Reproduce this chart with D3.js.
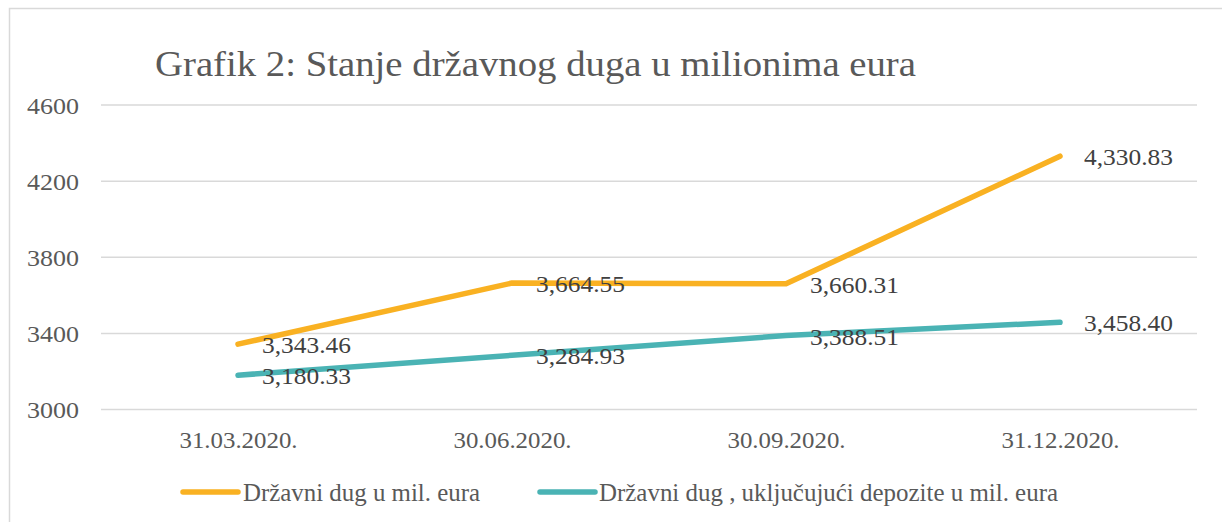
<!DOCTYPE html>
<html>
<head>
<meta charset="utf-8">
<script src="https://cdn.jsdelivr.net/npm/d3@7"></script>
<style>
  html, body { margin: 0; padding: 0; background: #fff; }
  svg { display: block; }
</style>
</head>
<body>
<svg id="chart" width="1222" height="522" font-family="Liberation Serif, DejaVu Serif, serif"></svg>
<script>
const categories = ["31.03.2020.", "30.06.2020.", "30.09.2020.", "31.12.2020."];
const debtValues = [3343.46, 3664.55, 3660.31, 4330.83];
const debtWithDepositsValues = [3180.33, 3284.93, 3388.51, 3458.40];
const yTicks = [3000, 3400, 3800, 4200, 4600];
const seriesNames = ["Državni dug u mil. eura", "Državni dug , uključujući depozite u mil. eura"];
const titleText = "Grafik 2: Stanje državnog duga u milionima eura";

const series = [
  { name: seriesNames[0], values: debtValues, color: "#F9B122" },
  { name: seriesNames[1], values: debtWithDepositsValues, color: "#4AB3B4" }
];

const FONT = "'Liberation Serif', 'DejaVu Serif', serif";
const svg = d3.select("#chart");
svg.append("rect").attr("width", 1222).attr("height", 522).attr("fill", "#fff");
// outer chart border (extends beyond right/bottom edges)
svg.append("rect").attr("x", 9.5).attr("y", 8.5).attr("width", 1300).attr("height", 600)
  .attr("fill", "none").attr("stroke", "#D9D9D9").attr("stroke-width", 1.5);

const x = d3.scalePoint().domain(categories).range([101, 1197]).padding(0.5);
const y = d3.scaleLinear().domain([3000, 4600]).range([409.5, 105]);

// gridlines
svg.append("g").selectAll("line").data(yTicks).join("line")
  .attr("x1", 101).attr("x2", 1197)
  .attr("y1", d => y(d)).attr("y2", d => y(d))
  .attr("stroke", "#D9D9D9").attr("stroke-width", 1.5);

// y axis
const yAxis = svg.append("g").attr("transform", "translate(80,0)")
  .call(d3.axisLeft(y).tickValues(yTicks).tickSize(0).tickPadding(1).tickFormat(d3.format("d")));
yAxis.attr("font-family", null);
yAxis.select(".domain").remove();
yAxis.selectAll("text").attr("font-size", 23).attr("fill", "#595959")
  .style("font-family", FONT)
  .attr("dy", null).attr("y", 8)
  .attr("textLength", 52).attr("lengthAdjust", "spacingAndGlyphs");

// x axis
const xAxis = svg.append("g")
  .call(d3.axisBottom(x).tickSize(0).tickPadding(0));
xAxis.attr("font-family", null);
xAxis.select(".domain").remove();
xAxis.selectAll("text").attr("font-size", 23).attr("fill", "#595959")
  .style("font-family", FONT)
  .attr("dy", null).attr("y", 448)
  .attr("textLength", 118).attr("lengthAdjust", "spacingAndGlyphs");

// title
svg.append("text").attr("x", 155).attr("y", 76).attr("font-size", 36)
  .style("font-family", FONT)
  .attr("fill", "#595959").attr("textLength", 761).attr("lengthAdjust", "spacingAndGlyphs")
  .text(titleText);

// lines
const line = d3.line().x((d, i) => x(categories[i])).y(d => y(d));
svg.append("g").selectAll("path").data(series).join("path")
  .attr("d", s => line(s.values))
  .attr("fill", "none").attr("stroke", s => s.color).attr("stroke-width", 5.5)
  .attr("stroke-linecap", "round").attr("stroke-linejoin", "round");

// data labels
const fmt = d3.format(",.2f");
series.forEach(s => {
  svg.append("g").selectAll("text").data(s.values).join("text")
    .attr("x", (d, i) => x(categories[i]) + 24)
    .attr("y", d => y(d) + 9)
    .attr("font-size", 23).attr("fill", "#404040")
    .style("font-family", FONT)
    .attr("textLength", 89).attr("lengthAdjust", "spacingAndGlyphs")
    .text(d => fmt(d));
});

// legend
const legendY = 492;
const legendItems = [
  { lx: 183, lx2: 238, tx: 243, tw: 237 },
  { lx: 540, lx2: 595, tx: 599, tw: 459 }
];
series.forEach((s, i) => {
  const it = legendItems[i];
  svg.append("line").attr("x1", it.lx).attr("x2", it.lx2)
    .attr("y1", legendY).attr("y2", legendY)
    .attr("stroke", s.color).attr("stroke-width", 5.5).attr("stroke-linecap", "round");
  svg.append("text").attr("x", it.tx).attr("y", legendY + 9).attr("font-size", 25)
    .style("font-family", FONT)
    .attr("fill", "#595959").attr("textLength", it.tw).attr("lengthAdjust", "spacingAndGlyphs")
    .text(s.name);
});
</script>
</body>
</html>
